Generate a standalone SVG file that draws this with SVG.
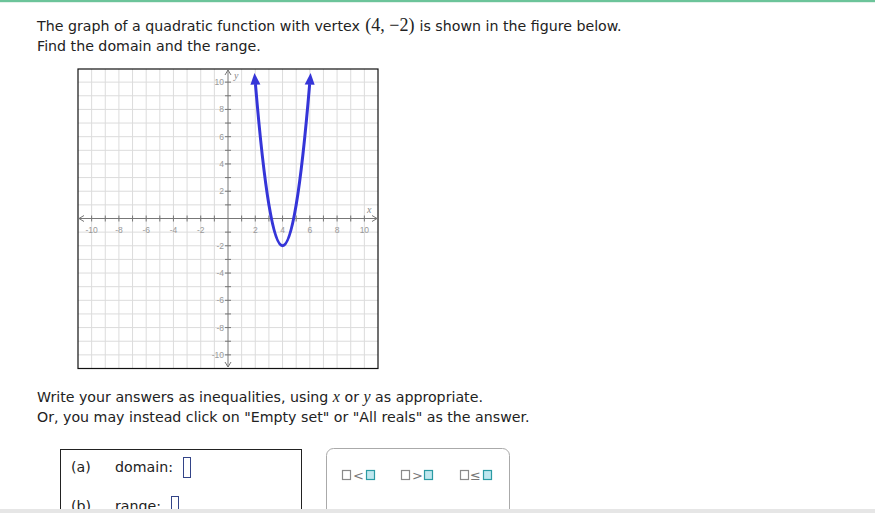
<svg xmlns="http://www.w3.org/2000/svg" width="875" height="513" viewBox="0 0 875 513">
<style>
.t{font-family:"DejaVu Sans",Verdana,sans-serif;font-size:14.2px;fill:#222}
.m{font-family:"Liberation Serif","DejaVu Serif",serif;font-size:18px;fill:#222}
.i{font-family:"Liberation Serif","DejaVu Serif",serif;font-style:italic;font-size:16px}
.lb{font-family:"Liberation Sans",Arial,sans-serif;font-size:8.5px;fill:#999}
.ax{font-family:"Liberation Serif",serif;font-style:italic;font-size:10px;fill:#888}
.grid{stroke:#dcdcdc;stroke-width:1;fill:none}
.axis{stroke:#777;stroke-width:1;fill:none}
.sq{fill:#fff;stroke:#8a8a8a;stroke-width:1.2}
.sqt{fill:#bfe7ef;stroke:#2b9ba4;stroke-width:1.2}
.sym{font-family:"DejaVu Sans",sans-serif;font-size:13px;fill:#777}
</style>
<rect x="0" y="0" width="875" height="513" fill="#fff"/>
<rect x="0" y="0" width="875" height="2" fill="#6cc49a"/>
<rect x="0" y="2" width="875" height="1" fill="#e3f2ea"/>

<g id="question">
<text class="t" x="37" y="31">The graph of a quadratic function with vertex <tspan class="m" dx="1">(4, −2)</tspan><tspan dx="5">is shown in the figure below.</tspan></text>
<text class="t" x="37" y="51">Find the domain and the range.</text>
</g>

<g id="graph">
<rect x="78" y="69" width="300" height="299.5" fill="#fff"/>
<path class="grid" d="M91.64 69V368M105.27 69V368M118.91 69V368M132.55 69V368M146.18 69V368M159.82 69V368M173.45 69V368M187.09 69V368M200.73 69V368M214.36 69V368M241.64 69V368M255.27 69V368M268.91 69V368M282.55 69V368M296.18 69V368M309.82 69V368M323.45 69V368M337.09 69V368M350.73 69V368M364.36 69V368"/>
<path class="grid" d="M78 82.14H378M78 95.77H378M78 109.41H378M78 123.05H378M78 136.68H378M78 150.32H378M78 163.95H378M78 177.59H378M78 191.23H378M78 204.86H378M78 232.14H378M78 245.77H378M78 259.41H378M78 273.05H378M78 286.68H378M78 300.32H378M78 313.95H378M78 327.59H378M78 341.23H378M78 354.86H378"/>
<path class="axis" d="M79 218.5H377M228 70V367"/>
<path class="axis" d="M84 215.5L79 218.5L84 221.5M372 215.5L377 218.5L372 221.5M225 75L228 70L231 75M225 362L228 367L231 362"/>
<path class="axis" d="M91.64 215.5v6M105.27 215.5v6M118.91 215.5v6M132.55 215.5v6M146.18 215.5v6M159.82 215.5v6M173.45 215.5v6M187.09 215.5v6M200.73 215.5v6M214.36 215.5v6M241.64 215.5v6M255.27 215.5v6M268.91 215.5v6M282.55 215.5v6M296.18 215.5v6M309.82 215.5v6M323.45 215.5v6M337.09 215.5v6M350.73 215.5v6M364.36 215.5v6"/>
<path class="axis" d="M225 82.14h6M225 95.77h6M225 109.41h6M225 123.05h6M225 136.68h6M225 150.32h6M225 163.95h6M225 177.59h6M225 191.23h6M225 204.86h6M225 232.14h6M225 245.77h6M225 259.41h6M225 273.05h6M225 286.68h6M225 300.32h6M225 313.95h6M225 327.59h6M225 341.23h6M225 354.86h6"/>
<g text-anchor="middle">
<text class="lb" x="91.64" y="233">-10</text>
<text class="lb" x="118.91" y="233">-8</text>
<text class="lb" x="146.18" y="233">-6</text>
<text class="lb" x="173.45" y="233">-4</text>
<text class="lb" x="200.73" y="233">-2</text>
<text class="lb" x="255.27" y="233">2</text>
<text class="lb" x="282.55" y="233">4</text>
<text class="lb" x="309.82" y="233">6</text>
<text class="lb" x="337.09" y="233">8</text>
<text class="lb" x="364.36" y="233">10</text>
</g>
<g text-anchor="end">
<text class="lb" x="224" y="85.2">10</text>
<text class="lb" x="224" y="112.4">8</text>
<text class="lb" x="224" y="139.7">6</text>
<text class="lb" x="224" y="167">4</text>
<text class="lb" x="224" y="194.2">2</text>
<text class="lb" x="224" y="248.8">-2</text>
<text class="lb" x="224" y="276">-4</text>
<text class="lb" x="224" y="303.3">-6</text>
<text class="lb" x="224" y="330.6">-8</text>
<text class="lb" x="224" y="357.9">-10</text>
</g>
<text class="ax" x="234" y="79">y</text>
<text class="ax" x="367" y="213">x</text>
<rect x="78" y="69" width="300" height="299.5" fill="none" stroke="#111" stroke-width="1.2"/>
</g>

<g id="parabola">
<path d="M255.44 84.05Q282.55 407.5 309.65 84.05" fill="none" stroke="#3535d8" stroke-width="3"/>
<polygon points="254.5,73 260.4,84.4 250.45,84.8" fill="#3535d8"/>
<polygon points="310.6,73 304.7,84.4 314.65,84.8" fill="#3535d8"/>
</g>

<g id="instructions">
<text class="t" x="37" y="402">Write your answers as inequalities, using <tspan class="i">x</tspan> or <tspan class="i">y</tspan> as appropriate.</text>
<text class="t" x="37" y="422">Or, you may instead click on "Empty set" or "All reals" as the answer.</text>
</g>

<g id="answers">
<rect x="60.5" y="449.5" width="241" height="70" fill="#fff" stroke="#222" stroke-width="1"/>
<text class="t" x="71" y="472" font-size="14">(a)</text>
<text class="t" x="115" y="472" font-size="14">domain:</text>
<rect x="183.5" y="457.5" width="7" height="20" fill="#fff" stroke="#334488" stroke-width="1"/>
<text class="t" x="71" y="511" font-size="14">(b)</text>
<text class="t" x="115" y="511" font-size="14">range:</text>
<rect x="171.5" y="496.5" width="7" height="20" fill="#fff" stroke="#334488" stroke-width="1"/>
</g>

<g id="palette">
<rect x="326.5" y="448.5" width="183" height="72" rx="7" fill="#fff" stroke="#aaa" stroke-width="1"/>
<rect class="sq" x="342.5" y="470.5" width="8" height="9"/>
<text class="sym" x="353" y="480">&lt;</text>
<rect class="sqt" x="366.5" y="470.5" width="8" height="9"/>
<rect class="sq" x="401.5" y="470.5" width="8" height="9"/>
<text class="sym" x="412" y="480">&gt;</text>
<rect class="sqt" x="424.5" y="470.5" width="8" height="9"/>
<rect class="sq" x="460.5" y="470.5" width="8" height="9"/>
<text class="sym" x="470" y="480">≤</text>
<rect class="sqt" x="483.5" y="470.5" width="8" height="9"/>
</g>

<rect x="0" y="509" width="875" height="4" fill="#e6e6e6"/>
</svg>
